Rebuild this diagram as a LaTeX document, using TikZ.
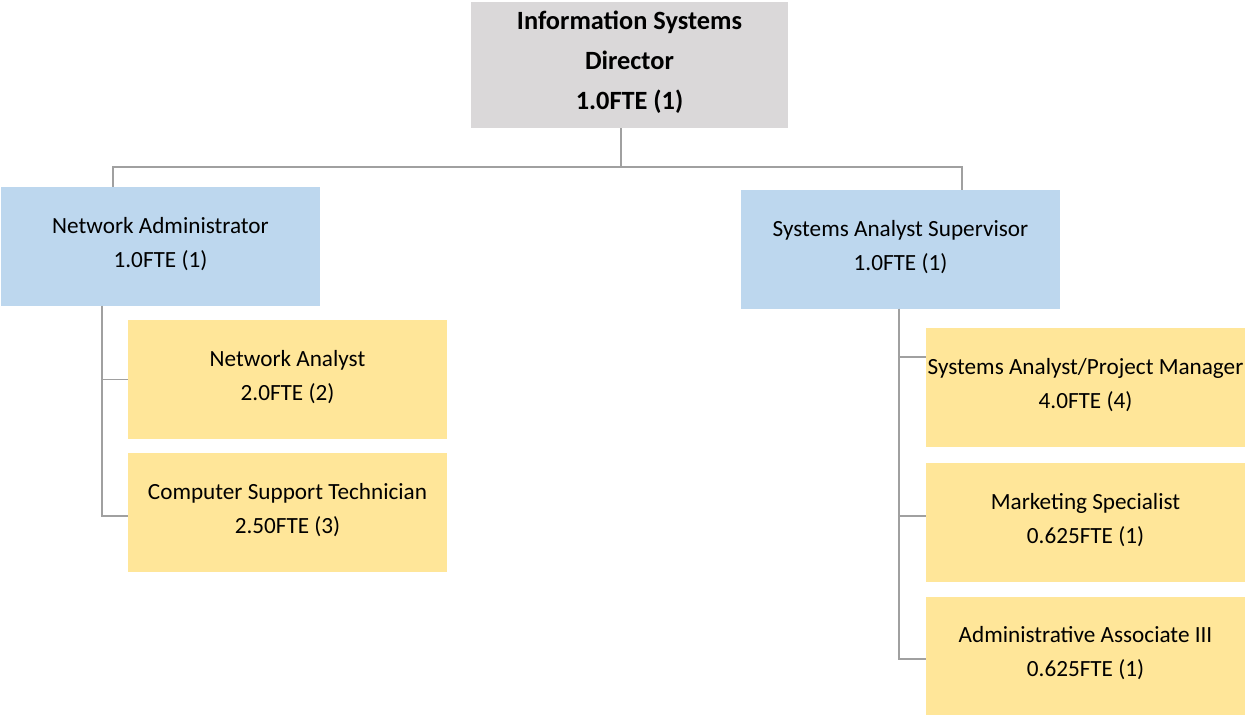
\documentclass[tikz,border=0pt]{standalone}
\usepackage{fontspec}
\setmainfont{Carlito}
\usepackage{tikz}
\usetikzlibrary{positioning,calc}
\definecolor{headgray}{RGB}{218,216,217}
\definecolor{leadblue}{RGB}{189,215,238}
\definecolor{staffyellow}{RGB}{255,230,153}
\definecolor{linegray}{RGB}{160,160,160}
\tikzstyle{head} = [rectangle, fill=headgray, minimum width=6.34cm, minimum height=2.52cm, inner sep=0pt, align=center, text depth=5pt, font=\fontsize{15}{22.7}\selectfont\bfseries]
\tikzstyle{lead} = [rectangle, fill=leadblue, minimum width=6.38cm, minimum height=2.38cm, inner sep=0pt, align=center, text depth=5pt, font=\fontsize{13.2}{19.3}\selectfont]
\tikzstyle{staff} = [rectangle, fill=staffyellow, minimum width=6.38cm, minimum height=2.38cm, inner sep=0pt, align=center, text depth=5pt, font=\fontsize{13.2}{19.3}\selectfont]
\tikzstyle{link} = [draw=linegray, line width=0.6pt]

\begin{document}
\begin{tikzpicture}[x=0.02cm,y=-0.02cm]
\useasboundingbox (0,0) rectangle (1245,715);

%% Director
\node[head] (dir) at (629.5,65) {Information Systems\\Director\\1.0FTE (1)};

%% Second level
\node[lead] (netadm) at (160.5,246.5) {Network Administrator\\1.0FTE (1)};
\node[lead] (sysup) at (900.5,249.5) {Systems Analyst Supervisor\\1.0FTE (1)};

% network staff
\node[staff] (netan) at (287.5,379.5) {Network Analyst\\2.0FTE (2)};
\node[staff] (cst) at (287.5,512.5) {Computer Support Technician\\2.50FTE (3)};

% systems staff
\node[staff] (sapm) at (1085.5,387.5) {Systems Analyst/Project Manager\\4.0FTE (4)};
\node[staff] (mkt) at (1085.5,522.5) {Marketing Specialist\\0.625FTE (1)};
\node[staff] (aa3) at (1085.5,656) {Administrative Associate III\\0.625FTE (1)};

%% Connectors
\coordinate (bus) at (621,167);
\coordinate (busL) at (113,167);
\coordinate (busR) at (962,167);
\coordinate (stemL) at (102,306);
\coordinate (stemR) at (899,309);

\draw[link] (dir.south -| bus) -- (bus);
\draw[link] (netadm.north -| busL) -- (busL) -- (busR) -- (sysup.north -| busR);

\draw[link] (stemL) |- (netan.west);
\draw[link] (stemL) |- ([yshift=-0.07cm]cst.west);

\draw[link] (stemR) |- ([yshift=0.61cm]sapm.west);
\draw[link] (stemR) |- ([yshift=0.13cm]mkt.west);
\draw[link] (stemR) |- ([yshift=-0.06cm]aa3.west);
\end{tikzpicture}
\end{document}
